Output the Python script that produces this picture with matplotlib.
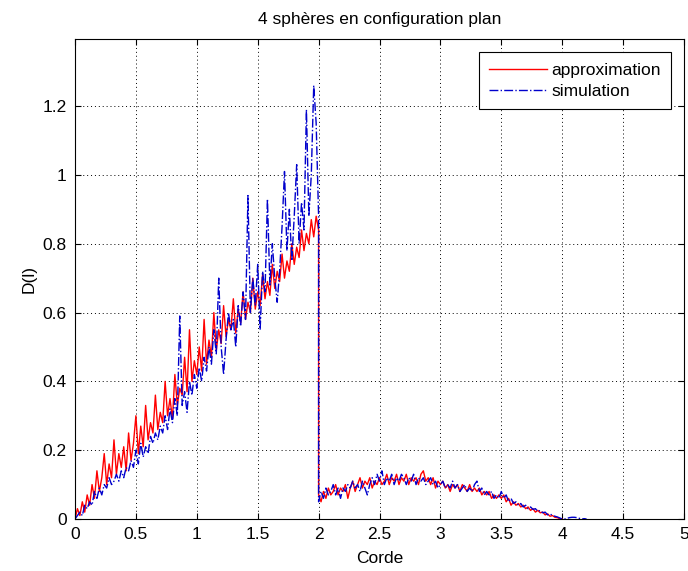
import numpy as np
import matplotlib
matplotlib.use("Agg")
import matplotlib.pyplot as plt

plt.rcParams['font.family'] = ['Liberation Sans', 'DejaVu Sans']

STEP = 0.02
# approximation, x = 0 .. 2 (step 0.02)
approx_rise = [0.00, 0.03, 0.01, 0.05, 0.02, 0.07, 0.04, 0.10, 0.06, 0.14,
               0.08, 0.12, 0.19, 0.10, 0.16, 0.12, 0.23, 0.13, 0.19, 0.15,
               0.21, 0.14, 0.25, 0.17, 0.22, 0.30, 0.19, 0.27, 0.21, 0.33,
               0.23, 0.28, 0.25, 0.36, 0.26, 0.31, 0.28, 0.40, 0.30, 0.35,
               0.29, 0.42, 0.33, 0.38, 0.36, 0.47, 0.37, 0.55, 0.40, 0.46,
               0.42, 0.50, 0.43, 0.58, 0.45, 0.52, 0.47, 0.60, 0.49, 0.55,
               0.51, 0.62, 0.53, 0.58, 0.55, 0.64, 0.54, 0.61, 0.57, 0.66,
               0.58, 0.63, 0.60, 0.70, 0.61, 0.66, 0.62, 0.71, 0.64, 0.69,
               0.65, 0.74, 0.67, 0.72, 0.69, 0.77, 0.70, 0.75, 0.72, 0.80,
               0.74, 0.79, 0.76, 0.84, 0.78, 0.83, 0.80, 0.87, 0.82, 0.88,
               0.84]
# approximation, x = 2 .. 4 (step 0.02)
approx_tail = [0.07, 0.05, 0.08, 0.06, 0.09, 0.07, 0.08, 0.10, 0.07, 0.09,
               0.08, 0.10, 0.06, 0.09, 0.11, 0.08, 0.10, 0.12, 0.09, 0.11,
               0.10, 0.12, 0.09, 0.11, 0.10, 0.12, 0.10, 0.11, 0.13, 0.10,
               0.12, 0.11, 0.13, 0.10, 0.12, 0.11, 0.13, 0.10, 0.12, 0.11,
               0.12, 0.10, 0.13, 0.14, 0.11, 0.12, 0.10, 0.12, 0.09, 0.11,
               0.10, 0.11, 0.09, 0.10, 0.08, 0.10, 0.09, 0.10, 0.08, 0.10,
               0.09, 0.08, 0.10, 0.08, 0.09, 0.08, 0.09, 0.07, 0.08, 0.07,
               0.08, 0.06, 0.07, 0.06, 0.07, 0.06, 0.07, 0.05, 0.06, 0.04,
               0.05, 0.04, 0.045, 0.035, 0.04, 0.03, 0.035, 0.025, 0.03, 0.02,
               0.025, 0.018, 0.02, 0.012, 0.015, 0.008, 0.01, 0.005, 0.004, 0.001,
               0.0]
# simulation, x = 0 .. 2 (step 0.02)
sim_rise = [0.00, 0.01, 0.02, 0.01, 0.04, 0.03, 0.05, 0.04, 0.08, 0.06,
            0.09, 0.07, 0.10, 0.09, 0.12, 0.10, 0.11, 0.13, 0.11, 0.14,
            0.12, 0.15, 0.14, 0.17, 0.15, 0.20, 0.16, 0.22, 0.18, 0.21,
            0.19, 0.24, 0.22, 0.25, 0.23, 0.27, 0.25, 0.30, 0.26, 0.32,
            0.28, 0.35, 0.30, 0.59, 0.33, 0.37, 0.31, 0.40, 0.36, 0.42,
            0.38, 0.44, 0.40, 0.47, 0.43, 0.50, 0.45, 0.55, 0.48, 0.70,
            0.50, 0.42, 0.52, 0.60, 0.55, 0.58, 0.50, 0.62, 0.56, 0.66,
            0.58, 0.94, 0.60, 0.70, 0.62, 0.74, 0.55, 0.72, 0.66, 0.93,
            0.68, 0.80, 0.70, 0.63, 0.72, 0.85, 1.01, 0.78, 0.90, 0.75,
            0.88, 1.03, 0.80, 0.92, 0.84, 1.19, 0.88, 1.00, 1.26, 1.15,
            0.88]
# simulation, x = 2 .. 4.2 (step 0.02)
sim_tail = [0.05, 0.08, 0.06, 0.09, 0.07, 0.08, 0.10, 0.07, 0.09, 0.06,
            0.09, 0.08, 0.10, 0.09, 0.11, 0.09, 0.10, 0.08, 0.11, 0.09,
            0.07, 0.10, 0.12, 0.10, 0.13, 0.11, 0.14, 0.10, 0.12, 0.11,
            0.13, 0.10, 0.12, 0.11, 0.13, 0.12, 0.10, 0.12, 0.11, 0.13,
            0.10, 0.12, 0.11, 0.12, 0.10, 0.11, 0.12, 0.10, 0.11, 0.09,
            0.10, 0.11, 0.09, 0.10, 0.09, 0.11, 0.09, 0.10, 0.08, 0.09,
            0.10, 0.08, 0.09, 0.08, 0.10, 0.11, 0.08, 0.09, 0.07, 0.08,
            0.07, 0.08, 0.06, 0.07, 0.06, 0.08, 0.06, 0.07, 0.05, 0.06,
            0.045, 0.05, 0.04, 0.045, 0.035, 0.04, 0.03, 0.035, 0.028, 0.03,
            0.022, 0.025, 0.018, 0.02, 0.012, 0.015, 0.01, 0.008, 0.006, 0.003,
            0.0, 0.0, 0.002, 0.004, 0.005, 0.005, 0.004, 0.002, 0.0, 0.001,
            0.0]

TAIL_START = 2.0

def xs(vals, start):
    return start + np.arange(len(vals)) * STEP

x_approx = np.concatenate([xs(approx_rise, 0.0), xs(approx_tail, TAIL_START)])
y_approx = np.concatenate([approx_rise, approx_tail])
x_sim = np.concatenate([xs(sim_rise, 0.0), xs(sim_tail, TAIL_START)])
y_sim = np.concatenate([sim_rise, sim_tail])

xticks = [0, 0.5, 1, 1.5, 2, 2.5, 3, 3.5, 4, 4.5, 5]
xticklabels = ['0', '0.5', '1', '1.5', '2', '2.5', '3', '3.5', '4', '4.5', '5']
yticks = [0, 0.2, 0.4, 0.6, 0.8, 1.0, 1.2]
yticklabels = ['0', '0.2', '0.4', '0.6', '0.8', '1', '1.2']

FS = 12.5
fig = plt.figure(figsize=(6.88, 5.71), dpi=100)
ax = fig.add_axes([75/688, 52/571, 609/688, 480/571])
ax.plot(x_approx, y_approx, color='#ff0000', lw=1.0, label='approximation')
ax.plot(x_sim, y_sim, color='#0000cc', lw=1.0, ls='-.', label='simulation')
ax.set_xlim(0, 5)
ax.set_ylim(0, 1.395)
ax.set_xticks(xticks)
ax.set_xticklabels(xticklabels)
ax.set_yticks(yticks)
ax.set_yticklabels(yticklabels)
ax.grid(True, color='black', ls=(0, (1, 3)), lw=0.7)
ax.tick_params(direction='in', top=True, right=True, labelsize=FS, length=4, pad=6)
for s in ax.spines.values():
    s.set_linewidth(0.8)
ax.set_title('4 sphères en configuration plan', fontsize=FS, pad=11)
ax.set_xlabel('Corde', fontsize=FS, labelpad=6)
ax.set_ylabel('D(l)', fontsize=FS, labelpad=4)
leg = ax.legend(loc='upper right', fancybox=False, framealpha=1, edgecolor='black',
                fontsize=FS, borderaxespad=0.75, handlelength=3.3, handletextpad=0.25,
                borderpad=0.6, labelspacing=0.35)
leg.get_frame().set_linewidth(0.8)
fig.savefig('out.png', dpi=100)
